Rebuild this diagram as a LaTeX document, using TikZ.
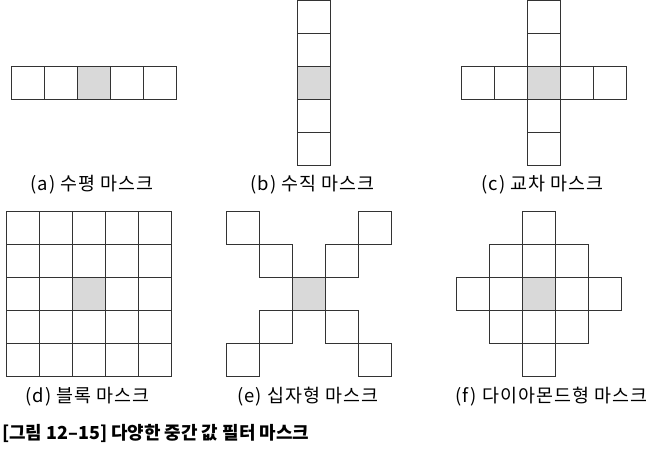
\documentclass[tikz,border=0pt]{standalone}
\usepackage{fontspec}
\setmainfont{Noto Sans CJK KR}
\definecolor{lineclr}{HTML}{333333}
\definecolor{midclr}{HTML}{D9D9D9}
\tikzset{
  cell/.style={draw=lineclr, line width=0.9pt, minimum size=33bp, inner sep=0pt},
  midcell/.style={cell, fill=midclr},
  masklabel/.style={font=\fontsize{18.5}{22}\selectfont\addfontfeature{LetterSpace=6}, inner sep=0pt},
}

\begin{document}
\begin{tikzpicture}[x=1bp,y=-1bp]
  \useasboundingbox (0,0) rectangle (648,456);

  % (a) horizontal
  \foreach \i in {-2,-1,1,2} \node[cell] (a\i) at (94+33*\i, 82.5) {};
  \node[midcell] (a0) at (94, 82.5) {};
  \node[masklabel] (la) at (92, 185) {(a) 수평 마스크};

  % (b) vertical
  \foreach \j in {-2,-1,1,2} \node[cell] (b\j) at (314, 82.5+33*\j) {};
  \node[midcell] (b0) at (314, 82.5) {};
  \node[masklabel] (lb) at (312.5, 185) {(b) 수직 마스크};

  % (c) cross
  \foreach \i in {-2,-1,1,2} \node[cell] (ch\i) at (544+33*\i, 82.5) {};
  \foreach \j in {-2,-1,1,2} \node[cell] (cv\j) at (544, 82.5+33*\j) {};
  \node[midcell] (c0) at (544, 82.5) {};
  \node[masklabel] (lc) at (542.5, 185) {(c) 교차 마스크};

  % (d) block
  \foreach \i in {-2,...,2}
    \foreach \j in {-2,...,2}
      \node[cell] (d\i\j) at (88.5+33*\i, 293.5+33*\j) {};
  \node[midcell] (d0) at (88.5, 293.5) {};
  \node[masklabel] (ld) at (87.5, 397) {(d) 블록 마스크};

  % (e) diagonal cross
  \foreach \i in {-2,-1,1,2} {
    \node[cell] (ep\i) at (309+33*\i, 293.5+33*\i) {};
    \node[cell] (em\i) at (309+33*\i, 293.5-33*\i) {};
  }
  \node[midcell] (e0) at (309, 293.5) {};
  \node[masklabel] (le) at (308, 397) {(e) 십자형 마스크};

  % (f) diamond
  \foreach \i/\j in {0/-2, -1/-1, 0/-1, 1/-1, -2/0, -1/0, 1/0, 2/0, -1/1, 0/1, 1/1, 0/2}
    \node[cell] (f\i\j) at (539+33*\i, 293.5+33*\j) {};
  \node[midcell] (f0) at (539, 293.5) {};
  \node[masklabel] (lf) at (551.5, 397) {(f) 다이아몬드형 마스크};

  % caption
  \node[anchor=west, inner sep=0pt, font=\fontsize{18}{22}\selectfont\bfseries] (cap) at (2, 433)
    {[그림 12–15] 다양한 중간 값 필터 마스크};
\end{tikzpicture}
\end{document}
